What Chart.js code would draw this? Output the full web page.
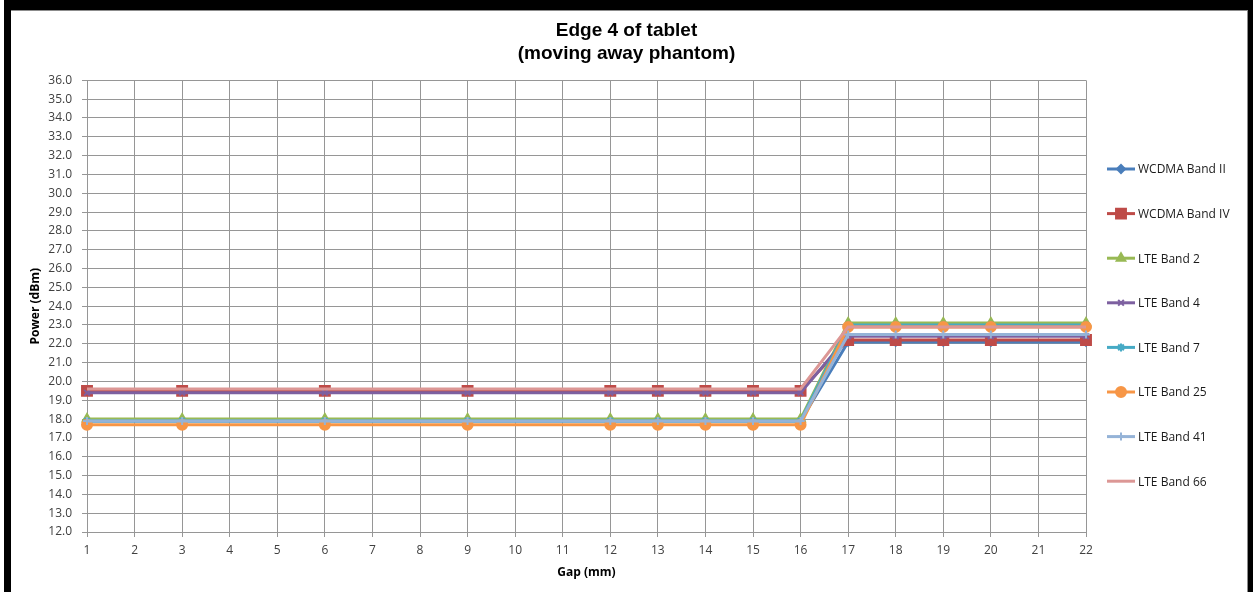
<!DOCTYPE html>
<html>
<head>
<meta charset="utf-8">
<title>Edge 4 of tablet</title>
<script src="https://cdn.jsdelivr.net/npm/chart.js@4/dist/chart.umd.min.js"></script>
<style>
  html, body { margin: 0; padding: 0; background: #fff; }
  #wrap { position: relative; width: 1253px; height: 592px; overflow: hidden; }
  #c { position: absolute; left: 0; top: 0; }
  .bar { position: absolute; background: #000; pointer-events: none; }
</style>
</head>
<body>
<div id="wrap">
  <canvas id="c" width="1253" height="592"></canvas>
  <div class="bar" style="left:4px; top:0; width:1249px; height:10px;"></div>
  <div class="bar" style="left:4px; top:0; width:7px; height:592px;"></div>
  <div class="bar" style="left:1248px; top:0; width:5px; height:592px;"></div>
  <div style="position:absolute; left:11px; top:10px; width:1236px; height:582px; border-top:1px solid #8c8c8c; border-right:1px solid #8c8c8c; pointer-events:none;"></div>
</div>
<script>
// Gap distances (mm) that were measured
const gapMm = [1, 3, 6, 9, 12, 13, 14, 15, 16, 17, 18, 19, 20, 22];

// Measured power per band (dBm)
const wcdmaBand2 = [17.9, 17.9, 17.9, 17.9, 17.9, 17.9, 17.9, 17.9, 17.9, 22.1, 22.1, 22.1, 22.1, 22.1];
const wcdmaBand4 = [19.5, 19.5, 19.5, 19.5, 19.5, 19.5, 19.5, 19.5, 19.5, 22.2, 22.2, 22.2, 22.2, 22.2];
const lteBand2   = [18.0, 18.0, 18.0, 18.0, 18.0, 18.0, 18.0, 18.0, 18.0, 23.1, 23.1, 23.1, 23.1, 23.1];
const lteBand4   = [19.4, 19.4, 19.4, 19.4, 19.4, 19.4, 19.4, 19.4, 19.4, 22.4, 22.4, 22.4, 22.4, 22.4];
const lteBand7   = [17.9, 17.9, 17.9, 17.9, 17.9, 17.9, 17.9, 17.9, 17.9, 23.0, 23.0, 23.0, 23.0, 23.0];
const lteBand25  = [17.7, 17.7, 17.7, 17.7, 17.7, 17.7, 17.7, 17.7, 17.7, 22.9, 22.9, 22.9, 22.9, 22.9];
const lteBand41  = [17.9, 17.9, 17.9, 17.9, 17.9, 17.9, 17.9, 17.9, 17.9, 22.5, 22.5, 22.5, 22.5, 22.5];
const lteBand66  = [19.6, 19.6, 19.6, 19.6, 19.6, 19.6, 19.6, 19.6, 19.6, 22.9, 22.9, 22.9, 22.9, 22.9];

const seriesNames = ['WCDMA Band II', 'WCDMA Band IV', 'LTE Band 2', 'LTE Band 4',
                     'LTE Band 7', 'LTE Band 25', 'LTE Band 41', 'LTE Band 66'];
const seriesValues = [wcdmaBand2, wcdmaBand4, lteBand2, lteBand4, lteBand7, lteBand25, lteBand41, lteBand66];

// Axis ranges
const yMin = 12, yMax = 36, yStep = 1;
const xMin = 1, xMax = 22, xStep = 1;

// Line / marker styling per series
const styles = [
  { color: '#4a7ebb', point: 'rectRot',   radius: 4 },
  { color: '#be4b48', point: 'rect',      radius: 7 },
  { color: '#98b954', point: 'triangle',  radius: 5 },
  { color: '#7d60a0', point: 'crossRot',  radius: 4 },
  { color: '#46aac5', point: 'star',      radius: 4 },
  { color: '#f79646', point: 'circle',    radius: 5 },
  { color: '#95b3d7', point: 'cross',     radius: 4 },
  { color: '#dc9795', point: false,       radius: 0 }
];

const datasets = seriesNames.map((name, i) => ({
  label: name,
  data: gapMm.map((g, k) => ({ x: g, y: seriesValues[i][k] })),
  borderColor: styles[i].color,
  backgroundColor: styles[i].color,
  borderWidth: 3,
  pointStyle: styles[i].point,
  pointRadius: styles[i].radius,
  pointBorderWidth: 2,
  pointBorderColor: styles[i].color,
  pointBackgroundColor: styles[i].color,
  tension: 0,
  clip: false,
  order: seriesNames.length - i
}));

// Legend drawn at the right: line sample with its marker, then the label
const sideLegend = {
  id: 'sideLegend',
  afterDraw(chart) {
    const ctx = chart.ctx;
    const x0 = 1107, x1 = 1135, tx = 1138;
    const yStart = 169, gap = 44.6;
    ctx.save();
    datasets.forEach((ds, i) => {
      const y = yStart + i * gap;
      ctx.strokeStyle = ds.borderColor;
      ctx.lineWidth = 3;
      ctx.beginPath();
      ctx.moveTo(x0, y);
      ctx.lineTo(x1, y);
      ctx.stroke();
      if (ds.pointStyle && Chart.helpers && Chart.helpers.drawPoint) {
        ctx.fillStyle = ds.pointBackgroundColor;
        ctx.strokeStyle = ds.pointBorderColor;
        ctx.lineWidth = 2;
        Chart.helpers.drawPoint(ctx, { pointStyle: ds.pointStyle, radius: ds.pointRadius, rotation: 0, borderWidth: 2 }, (x0 + x1) / 2, y);
      }
      ctx.fillStyle = '#1a1a1a';
      ctx.font = '12px "Open Sans"';
      ctx.textAlign = 'left';
      ctx.textBaseline = 'middle';
      ctx.fillText(ds.label, tx, y + 1);
    });
    ctx.restore();
  }
};

const gridColor = '#969696';
const tickColor = '#404040';

new Chart(document.getElementById('c'), {
  type: 'line',
  data: { datasets },
  plugins: [sideLegend],
  options: {
    responsive: false,
    animation: false,
    layout: { padding: { left: 0, right: 0, top: 0, bottom: 0 } },
    plugins: {
      legend: { display: false },
      tooltip: { enabled: false },
      title: {
        display: true,
        text: ['Edge 4 of tablet', '(moving away phantom)'],
        color: '#000',
        font: { family: '"Liberation Sans", Arial, sans-serif', size: 19, weight: 'bold', lineHeight: 1.22 },
        padding: { top: 19, bottom: 15 }
      }
    },
    scales: {
      x: {
        type: 'linear',
        min: xMin, max: xMax,
        ticks: { stepSize: xStep, color: tickColor, font: { family: '"Open Sans"', size: 12 }, padding: 6, maxRotation: 0 },
        grid: { color: gridColor, lineWidth: 1, tickLength: 5, tickColor: gridColor },
        border: { color: gridColor, width: 1 },
        title: { display: true, text: 'Gap (mm)', color: '#000', font: { family: '"Open Sans"', size: 12, weight: 'bold' }, padding: { top: 0, bottom: 12 } },
        afterFit(scale) { scale.height = 60; }
      },
      y: {
        min: yMin, max: yMax,
        ticks: { stepSize: yStep, color: tickColor, font: { family: '"Open Sans"', size: 12 }, padding: 10,
                 callback: v => Number(v).toFixed(1) },
        grid: { color: gridColor, lineWidth: 1, tickLength: 5, tickColor: gridColor },
        border: { color: gridColor, width: 1 },
        title: { display: true, text: 'Power (dBm)', color: '#000', font: { family: '"Open Sans"', size: 12, weight: 'bold' }, padding: { top: 28, bottom: 0 } },
        afterFit(scale) { scale.width = 87; }
      },
      // empty band on the right that holds the legend column
      legendBand: {
        type: 'linear',
        position: 'right',
        display: true,
        min: 0, max: 1,
        ticks: { display: false },
        grid: { display: false, drawTicks: false },
        border: { display: false },
        afterFit(scale) { scale.width = 167; }
      }
    }
  }
});
</script>
</body>
</html>
